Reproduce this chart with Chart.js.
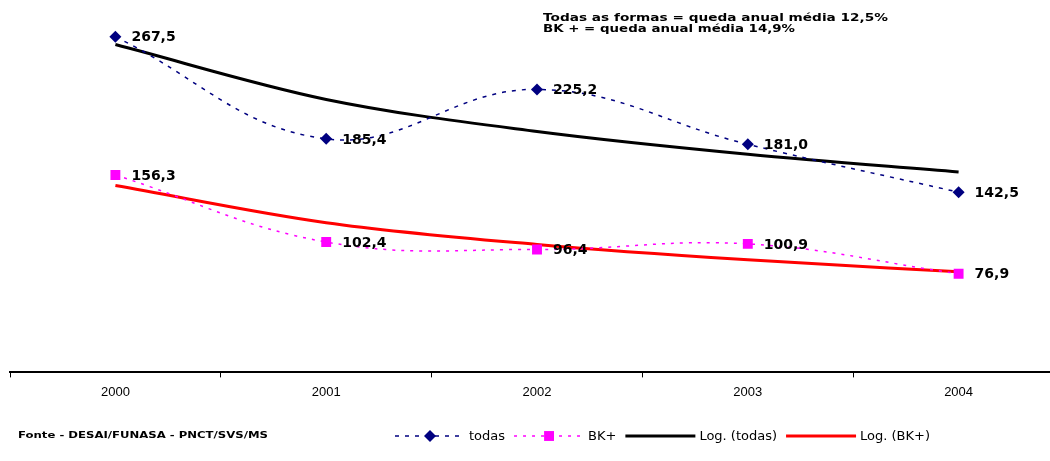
<!DOCTYPE html>
<html>
<head>
<meta charset="utf-8">
<script src="https://cdn.jsdelivr.net/npm/chart.js@4/dist/chart.umd.min.js"></script>
<style>
  html, body { margin: 0; padding: 0; background: #fff; overflow: hidden; }
  canvas { display: block; }
</style>
</head>
<body>
<canvas id="c" width="1071" height="461"></canvas>
<script>
// Anos e casos por 100 mil (todas as formas e BK+)
const years = ['2000', '2001', '2002', '2003', '2004'];
const todas = [267.5, 185.4, 225.2, 181.0, 142.5];
const bkPos = [156.3, 102.4, 96.4, 100.9, 76.9];
const seriesNames = ['todas', 'BK+', 'Log. (todas)', 'Log. (BK+)'];
const noteLines = ['Todas as formas = queda anual média 12,5%', 'BK + = queda anual média 14,9%'];
const sourceNote = 'Fonte - DESAI/FUNASA - PNCT/SVS/MS';

// Logarithmic least-squares trend (y = a·ln(x) + b, x = 1..n) evaluated at each year
function logTrend(values) {
  const xs = values.map((_, i) => Math.log(i + 1));
  const n = values.length;
  const mx = xs.reduce((s, v) => s + v, 0) / n;
  const my = values.reduce((s, v) => s + v, 0) / n;
  let sxy = 0, sxx = 0;
  xs.forEach((x, i) => { sxy += (x - mx) * (values[i] - my); sxx += (x - mx) * (x - mx); });
  const a = sxy / sxx, b = my - a * mx;
  return xs.map(x => a * x + b);
}

const fmt = v => v.toFixed(1).replace('.', ',');

// Value labels to the right of each marker
const valueLabels = {
  id: 'valueLabels',
  afterDatasetsDraw(chart) {
    const ctx = chart.ctx;
    ctx.save();
    ctx.font = 'bold 14px "DejaVu Sans"';
    ctx.fillStyle = '#000';
    ctx.textBaseline = 'middle';
    ctx.textAlign = 'left';
    [0, 1].forEach(di => {
      const meta = chart.getDatasetMeta(di);
      meta.data.forEach((pt, i) => {
        ctx.fillText(fmt(chart.data.datasets[di].data[i]), pt.x + 16, pt.y + 1);
      });
    });
    ctx.restore();
  }
};

function fitText(ctx, text, x, y, width) {
  const w = ctx.measureText(text).width;
  ctx.save();
  ctx.translate(x, y);
  ctx.scale(width / w, 1);
  ctx.fillText(text, 0, 0);
  ctx.restore();
}

function drawMarker(ctx, style, color, r, cx, cy) {
  ctx.fillStyle = color;
  ctx.beginPath();
  if (style === 'rectRot') {
    ctx.moveTo(cx - r, cy); ctx.lineTo(cx, cy - r); ctx.lineTo(cx + r, cy); ctx.lineTo(cx, cy + r);
    ctx.closePath();
  } else {
    const s = r * Math.SQRT1_2;
    ctx.rect(cx - s, cy - s, 2 * s, 2 * s);
  }
  ctx.fill();
}

// Notes, source line and legend
const annotations = {
  id: 'annotations',
  afterDraw(chart) {
    const ctx = chart.ctx;
    ctx.save();
    ctx.fillStyle = '#000';
    ctx.textBaseline = 'middle';
    ctx.textAlign = 'left';

    ctx.font = 'bold 11px "DejaVu Sans"';
    fitText(ctx, noteLines[0], 543, 18, 345);
    fitText(ctx, noteLines[1], 543, 29, 252);

    ctx.font = 'bold 9px "DejaVu Sans"';
    fitText(ctx, sourceNote, 18, 436, 250);

    // legend
    ctx.font = '13px "DejaVu Sans"';
    let x = 395;
    const y = 436;
    chart.data.datasets.forEach(ds => {
      ctx.save();
      ctx.strokeStyle = ds.borderColor;
      ctx.lineWidth = ds.borderWidth;
      ctx.setLineDash(ds.borderDash || []);
      ctx.beginPath();
      ctx.moveTo(x, y);
      ctx.lineTo(x + 70, y);
      ctx.stroke();
      ctx.restore();
      if (ds.pointRadius > 0) {
        drawMarker(ctx, ds.pointStyle, ds.pointBackgroundColor, ds.pointRadius, x + 35, y);
      }
      ctx.fillStyle = '#000';
      ctx.fillText(ds.label, x + 74, y + 1);
      x += 74 + ctx.measureText(ds.label).width + 9;
    });
    ctx.restore();
  }
};

new Chart(document.getElementById('c'), {
  type: 'line',
  data: {
    labels: years,
    datasets: [
      {
        label: seriesNames[0], data: todas, order: 1,
        borderColor: '#000080', borderWidth: 1.5, borderDash: [4, 6],
        pointStyle: 'rectRot', pointRadius: 6, pointBackgroundColor: '#000080',
        pointBorderColor: '#000080', pointBorderWidth: 0, tension: 0.4
      },
      {
        label: seriesNames[1], data: bkPos, order: 2,
        borderColor: '#ff00ff', borderWidth: 1.5, borderDash: [3, 6],
        pointStyle: 'rect', pointRadius: 7, pointBackgroundColor: '#ff00ff',
        pointBorderColor: '#ff00ff', pointBorderWidth: 0, tension: 0.4
      },
      {
        label: seriesNames[2], data: logTrend(todas), order: 3,
        borderColor: '#000000', borderWidth: 3, pointRadius: 0,
        cubicInterpolationMode: 'monotone'
      },
      {
        label: seriesNames[3], data: logTrend(bkPos), order: 4,
        borderColor: '#ff0000', borderWidth: 3, pointRadius: 0,
        cubicInterpolationMode: 'monotone'
      }
    ]
  },
  options: {
    responsive: false,
    animation: false,
    layout: { padding: { left: 10, right: 0, top: 0, bottom: 54 } },
    plugins: { legend: { display: false }, tooltip: { enabled: false } },
    elements: { point: { hoverRadius: 6 } },
    scales: {
      x: {
        offset: true,
        grid: { display: true, offset: true, drawOnChartArea: false, drawTicks: true, tickLength: 5, color: '#000', lineWidth: 1 },
        border: { display: true, color: '#000', width: 2 },
        ticks: { color: '#000', font: { family: '"Liberation Sans"', size: 13 }, padding: 7, maxRotation: 0 }
      },
      y: {
        display: false,
        min: -2.5, max: 291.5
      }
    }
  },
  plugins: [valueLabels, annotations]
});
</script>
</body>
</html>
